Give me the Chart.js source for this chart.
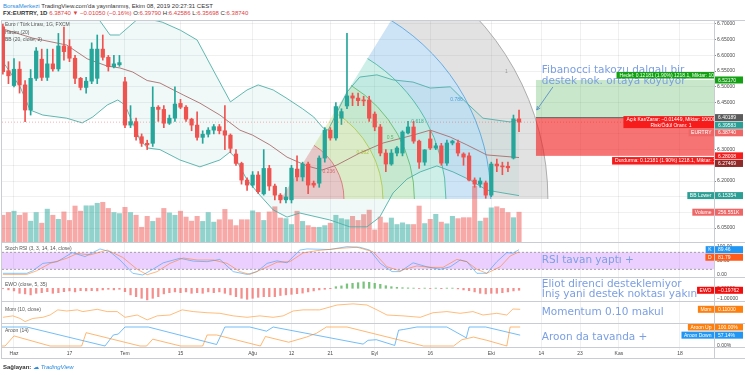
<!DOCTYPE html>
<html lang="tr">
<head>
<meta charset="utf-8">
<title>EURTRY 1D</title>
<script src="https://cdn.jsdelivr.net/npm/chart.js@4.4.1/dist/chart.umd.min.js"></script>
<style>
  html, body { margin: 0; padding: 0; background: #fff; }
  #wrap { position: relative; width: 745px; height: 375px; overflow: hidden; font-family: "Liberation Sans", Arial, sans-serif; color: #333; }
  #wrap canvas { position: absolute; left: 0; }
  .txt { position: absolute; left: 3px; white-space: nowrap; line-height: 1; }
  .hl { position: absolute; left: 1px; width: 744px; height: 1px; background: #c9ccd3; }
  .vl { position: absolute; width: 1px; background: #c9ccd3; }
  .dn { color: #e0413f; }
</style>
</head>
<body>
<div id="wrap">
  <div class="txt" style="top:3px;font-size:6px"><span style="color:#2a8ce0">BorsaMerkezi</span> TradingView.com'da yayınlanmış, Ekim 08, 2019 20:27:31 CEST</div>
  <div class="txt" style="top:10px;font-size:6px"><b>FX:EURTRY, 1D</b> <span class="dn">6.38740 ▼ −0.01050 (−0.16%)</span> O:<span class="dn">6.39790</span> H:<span class="dn">6.42586</span> L:<span class="dn">6.35698</span> C:<span class="dn">6.38740</span></div>
  <canvas id="cMain" width="745" height="222" style="top:21px"></canvas>
  <canvas id="cStoch" width="745" height="35" style="top:243px"></canvas>
  <canvas id="cEwo" width="745" height="24" style="top:278px"></canvas>
  <canvas id="cMom" width="745" height="22" style="top:302px"></canvas>
  <canvas id="cAroon" width="745" height="34" style="top:324px"></canvas>
  <div class="hl" style="top:20px"></div>
  <div class="hl" style="top:242px"></div>
  <div class="hl" style="top:277px"></div>
  <div class="hl" style="top:301px"></div>
  <div class="hl" style="top:323px"></div>
  <div class="hl" style="top:347px"></div>
  <div class="hl" style="top:358px"></div>
  <div class="vl" style="left:1px;top:20px;height:339px"></div>
  <div class="vl" style="left:714px;top:20px;height:339px"></div>
  <div class="txt" style="top:364px;font-size:6px"><b>Sağlayan:</b> <span style="color:#2a8ce0;font-style:italic">&#9729; TradingView</span></div>
</div>
<script>
// ---- candles (trading-day index, first bar = -2) ----
const startIdx = -2;
const opens = [6.691,6.551,6.504,6.556,6.506,6.426,6.527,6.588,6.530,6.573,
  6.557,6.630,6.628,6.591,6.527,6.498,6.518,6.527,6.620,6.594,
  6.564,6.570,6.516,6.378,6.389,6.341,6.320,6.320,6.435,6.428,
  6.384,6.400,6.447,6.435,6.397,6.378,6.339,6.349,6.362,6.373,
  6.360,6.346,6.286,6.256,6.203,6.187,6.219,6.159,6.240,6.184,
  6.155,6.140,6.140,6.238,6.213,6.254,6.193,6.193,6.273,6.362,
  6.337,6.400,6.439,6.471,6.464,6.457,6.458,6.413,6.372,6.289,
  6.254,6.289,6.289,6.353,6.372,6.327,6.260,6.334,6.305,6.312,
  6.257,6.321,6.321,6.286,6.280,6.203,6.190,6.194,6.155,6.254,
  6.248,6.247,6.273,6.3979];
const highs = [6.700,6.580,6.590,6.580,6.520,6.555,6.625,6.620,6.620,6.620,
  6.670,6.690,6.650,6.600,6.530,6.530,6.640,6.665,6.665,6.600,
  6.600,6.600,6.530,6.440,6.400,6.350,6.330,6.500,6.440,6.440,
  6.410,6.500,6.460,6.440,6.400,6.420,6.360,6.370,6.380,6.380,
  6.440,6.350,6.300,6.260,6.210,6.230,6.230,6.300,6.250,6.190,
  6.160,6.180,6.250,6.280,6.260,6.260,6.200,6.280,6.370,6.370,
  6.450,6.430,6.670,6.480,6.480,6.470,6.470,6.420,6.380,6.300,
  6.300,6.310,6.360,6.390,6.390,6.330,6.300,6.360,6.320,6.320,
  6.330,6.330,6.330,6.290,6.290,6.210,6.210,6.200,6.260,6.270,
  6.260,6.260,6.410,6.42586];
const lows = [6.540,6.510,6.500,6.480,6.389,6.410,6.520,6.520,6.520,6.550,
  6.550,6.585,6.580,6.510,6.490,6.480,6.510,6.510,6.585,6.550,
  6.560,6.565,6.370,6.370,6.330,6.310,6.300,6.310,6.390,6.370,
  6.380,6.390,6.430,6.390,6.360,6.330,6.320,6.340,6.350,6.350,
  6.300,6.290,6.250,6.190,6.170,6.180,6.160,6.155,6.170,6.140,
  6.130,6.130,6.130,6.200,6.200,6.160,6.180,6.180,6.260,6.330,
  6.330,6.380,6.430,6.440,6.440,6.440,6.390,6.360,6.280,6.230,
  6.250,6.280,6.280,6.350,6.320,6.240,6.250,6.300,6.300,6.250,
  6.250,6.315,6.280,6.250,6.200,6.180,6.180,6.145,6.150,6.230,
  6.220,6.230,6.270,6.35698];
const closes = [6.548,6.535,6.556,6.506,6.426,6.527,6.614,6.530,6.573,6.557,
  6.630,6.612,6.591,6.527,6.498,6.518,6.620,6.620,6.594,6.564,
  6.573,6.577,6.378,6.389,6.341,6.320,6.315,6.435,6.428,6.384,
  6.400,6.445,6.435,6.397,6.378,6.339,6.349,6.362,6.373,6.360,
  6.346,6.304,6.256,6.203,6.187,6.219,6.166,6.240,6.184,6.155,
  6.140,6.149,6.241,6.213,6.254,6.187,6.187,6.273,6.362,6.337,
  6.437,6.421,6.471,6.464,6.456,6.455,6.400,6.372,6.289,6.254,
  6.289,6.305,6.356,6.372,6.327,6.260,6.299,6.305,6.312,6.257,
  6.321,6.327,6.289,6.276,6.203,6.190,6.200,6.155,6.254,6.248,
  6.245,6.242,6.398,6.3874];
const volumes = [231,254,265,231,251,182,254,165,282,231,
  197,259,188,308,265,310,310,331,339,288,
  254,245,297,254,231,131,222,180,208,288,
  251,231,265,216,182,222,180,254,174,194,
  280,194,145,194,194,268,254,188,259,302,
  208,203,154,265,180,145,131,131,145,165,
  231,203,194,222,188,237,274,109,216,168,
  208,154,168,154,154,308,162,197,239,174,
  160,222,203,211,211,473,182,208,293,302,
  288,254,211,256.551];

// ---- Bollinger bands, read at sample points (index, price) ----
const bbUpperIdx = [-2.2,12,15,17.3,19,22.7,26.7,30,33,36,39,42,44,46.7,49,52,54,55.7,56.6,60,62.3,65.4,68.3,71.9,75,78.6,81.6,84.5,89.4,91];
const bbUpper = [6.80,6.78,6.722,6.665,6.665,6.722,6.706,6.68,6.649,6.55,6.452,6.49,6.506,6.49,6.465,6.43,6.404,6.369,6.362,6.483,6.531,6.538,6.522,6.515,6.496,6.50,6.448,6.40,6.388,6.3958];
const bbBasisIdx = [-2.5,3.4,9.5,13.2,16.8,19.1,21.4,24,26.3,30.5,33.5,37.1,40.7,43,46.1,49.2,52.8,55.5,58.2,62.3,66.5,71.9,75,78.6,81.6,85.2,91];
const bbBasis = [6.687,6.655,6.633,6.589,6.566,6.56,6.547,6.52,6.512,6.474,6.448,6.41,6.362,6.346,6.315,6.276,6.248,6.235,6.251,6.289,6.321,6.346,6.362,6.34,6.315,6.283,6.2747];
const bbLowerIdx = [-2.2,1.1,2.9,5.2,9.5,12.3,14.2,16.8,18.7,20,21.4,22.7,24.1,26.3,29.9,33.5,37.1,38.9,39.8,42,44.3,46.7,49.2,51.5,56.9,60.5,63.6,65.9,68.3,70.8,73.2,76.2,79.1,82.2,85.2,88.1,91];
const bbLower = [6.585,6.50,6.426,6.41,6.40,6.385,6.404,6.442,6.458,6.442,6.385,6.33,6.305,6.30,6.267,6.245,6.267,6.292,6.276,6.203,6.155,6.108,6.085,6.098,6.076,6.054,6.054,6.085,6.162,6.206,6.229,6.248,6.229,6.203,6.171,6.162,6.1535];

// ---- Stoch RSI (index, value) ----
const stochKIdx = [-2,2.3,3.4,5.2,7.8,10.5,12.8,15.5,17.3,19.1,21.4,23.2,25,26.9,29.9,32.3,34.8,37.1,39.5,42,43.8,45.6,47.4,49.2,51.5,52.8,56.9,60,62.3,64.1,66,68.1,69.6,71.9,74.4,76.8,78.6,80.4,81.6,83.4,85.2,87,88.8,89.9,91];
const stochK = [6,6,15,41,47,79,65,92,82,53,6,0,20,43,59,49,47,55,12,2,12,41,50,43,88,92,90,100,98,88,41,12,12,43,29,20,29,53,47,6,6,47,79,77,89.46];
const stochDIdx = [-2,2.3,4.1,6.5,9.5,11.4,13.7,16.8,19.6,22.2,24,25.8,28.1,30.5,33,35.9,38.4,40.7,42.5,44.9,47.4,49.7,52.1,54.6,58.7,61.8,64.7,67.2,69.5,72.6,75,77.3,79.8,81.6,83.4,85.2,87.6,89.4,91];
const stochD = [2,2,15,41,59,76,71,88,62,20,1,12,41,60,53,53,41,12,2,22,45,47,78,86,94,98,82,29,15,32,27,27,55,47,20,6,29,67,81.79];

// ---- EWO (one value per bar) ----
const ewo = [-0.02,-0.16,-0.26,-0.5,-0.56,-0.66,-0.5,-0.44,-0.34,-0.5,
  -0.44,-0.34,-0.26,-0.36,-0.24,-0.26,-0.24,-0.26,-0.16,-0.1,
  -0.16,-0.1,-0.34,-0.66,-0.84,-1.0,-1.16,-1.0,-0.84,-0.56,
  -0.44,-0.36,-0.44,-0.36,-0.5,-0.44,-0.5,-0.36,-0.44,-0.36,
  -0.5,-0.66,-0.84,-1.0,-1.1,-1.0,-0.9,-0.84,-0.84,-0.84,
  -0.72,-0.66,-0.6,-0.54,-0.48,-0.36,-0.26,-0.16,-0.1,-0.04,
  0.16,0.24,0.44,0.5,0.56,0.64,0.6,0.5,0.4,0.26,
  0.16,0.1,0.06,0.04,0.02,-0.02,0.02,-0.02,0.02,-0.04,
  0.02,0.02,-0.06,-0.16,-0.24,-0.36,-0.5,-0.56,-0.5,-0.5,
  -0.44,-0.36,-0.26,-0.19762];

// ---- Momentum (index, value) ----
const momIdx = [-2,-0.2,1.1,2,3.4,5.2,6.5,7.9,9.5,11.4,12.4,15,16.8,18.6,20,22.2,24,25.8,28.1,30.3,32.3,34.8,37.1,39.5,42,44.3,46.7,48.5,50.3,52.1,55.1,58.2,61.1,63.6,65.4,67.2,70.1,73.2,75.5,78,80.4,82.7,84.5,87,88.8,89.9,91.2];
const mom = [-0.17,-0.12,-0.21,-0.32,-0.21,-0.17,-0.09,0.09,0.05,0.09,0.03,0.11,0.03,0.03,-0.17,-0.09,-0.26,-0.12,-0.09,0.09,0.03,-0.01,-0.03,-0.12,-0.17,-0.12,-0.17,-0.12,0.05,0.09,0.09,0.26,0.30,0.26,0.09,-0.09,-0.12,-0.17,-0.01,0.03,-0.03,0.03,-0.09,-0.03,-0.09,0.12,0.11];

// ---- Aroon (index, value %) ----
const aroonUpIdx = [-2.2,-1.6,0,6.5,12.2,13,22.7,23.9,25,30,34,34.8,36.5,44.4,45.3,49.5,52.7,54.5,56.3,60,73.8,79.2,80.7,82.8,85.2,88.8,89.4,91.2];
const aroonUp = [0,0,53,0,0,70,0,0,36,0,0,58,58,0,50,20,47,67,100,100,0,0,33,47,30,0,100,100];
const aroonDnIdx = [-2.2,2.3,16.4,17.9,18.8,20,24.2,36.5,38,42.5,45.5,46.7,62.9,63.8,65.3,68.6,69.3,70.2,72.6,78,81.5,82,85,91.2];
const aroonDn = [100,100,0,58,63,100,100,8,100,100,78,100,10,30,33,3,83,87,100,100,43,100,100,57.14];

// ---- axes ----
const xMin = -2.16, xMax = 126.13;
const timeTickIdx = [0,10,20,30,43,50,57,65,75,86,95,102,109,120];
const timeTickLabels = ['Haz','17','Tem','15','Ağu','12','21','Eyl','16','Eki','14','23','Kas','18'];
const priceTicks = [6.05,6.10,6.15,6.20,6.25,6.30,6.35,6.40,6.45,6.50,6.55,6.60,6.65,6.70];

// ---- drawings ----
const fibLevels = [0.236,0.382,0.5,0.618,0.786,1];
const fibCenter = [48.1, 6.1427];
const fibBaseEnd = 96.2;
const fibTrend = [68.0, 6.713];
const posStartIdx = 94.05, posEndIdx = 142.7;
const posTarget = 6.52170, posEntry = 6.40189, posStop = 6.28008;

const FONT = '"Liberation Sans", Arial, sans-serif';
const NOTE_FONT = '10.5px "DejaVu Sans", sans-serif';
const NOTE = '#7b9fe2';
const gridColor = 'rgba(42,46,57,0.07)';
const UP = '#26a69a', DN = '#ef5350';

const barIdx = opens.map((_, k) => startIdx + k);
const isUp = opens.map((o, k) => closes[k] >= o);
const xy = (ix, vs) => ix.map((x, k) => ({x, y: vs[k]}));

function xAxis(labels) {
  return {
    type: 'linear', min: xMin, max: xMax, offset: false,
    grid: {color: gridColor, drawTicks: labels, tickLength: 2, offset: false},
    border: {display: false},
    afterBuildTicks: s => { s.ticks = timeTickIdx.map(v => ({value: v})); },
    afterFit: s => { s.height = labels ? 10 : 0; s.paddingLeft = 0; s.paddingRight = 0; },
    ticks: {display: labels, autoSkip: false, maxRotation: 0, padding: 1,
      font: {size: 5, family: FONT}, color: '#4a4a4a',
      callback: (v, i) => timeTickLabels[i]}
  };
}
function yAxis(min, max, ticks, fmt, showGrid) {
  return {
    position: 'right', min, max,
    afterFit: s => { s.width = 31; s.paddingTop = 0; s.paddingBottom = 0; },
    afterBuildTicks: s => { s.ticks = ticks.map(v => ({value: v})); },
    grid: {display: showGrid, color: gridColor, tickLength: 2, tickColor: '#888'},
    border: {display: true, color: '#c9ccd3'},
    ticks: {padding: 1, font: {size: 5, family: FONT}, color: '#4a4a4a', callback: fmt}
  };
}
function baseOptions(xLabels, y, extraScales, plug) {
  return {
    responsive: false, animation: false, devicePixelRatio: 1,
    layout: {padding: {left: 2, right: 0, top: 0, bottom: 0}},
    plugins: Object.assign({legend: {display: false}, tooltip: {enabled: false}}, plug),
    scales: Object.assign({x: xAxis(xLabels), y}, extraScales || {})
  };
}

// titles, notes, arrows, right-axis value labels
const decor = {
  id: 'decor',
  afterDraw(chart, args, o) {
    const {ctx, chartArea: a, scales} = chart;
    ctx.save();
    ctx.textBaseline = 'middle';
    ctx.font = '5px ' + FONT; ctx.fillStyle = '#555'; ctx.textAlign = 'left';
    (o.titles || []).forEach((t, k) => ctx.fillText(t, a.left + 3, a.top + o.titleTop + k * 7.5));
    ctx.font = NOTE_FONT; ctx.fillStyle = NOTE;
    (o.notes || []).forEach(n => ctx.fillText(n.text, scales.x.getPixelForValue(n.idx), scales.y.getPixelForValue(n.v)));
    (o.arrows || []).forEach(ar => {
      const x0 = scales.x.getPixelForValue(ar.from[0]), y0 = scales.y.getPixelForValue(ar.from[1]);
      const x1 = scales.x.getPixelForValue(ar.to[0]), y1 = scales.y.getPixelForValue(ar.to[1]);
      const an = Math.atan2(y1 - y0, x1 - x0);
      ctx.strokeStyle = '#5b8fc7'; ctx.lineWidth = 0.9;
      ctx.beginPath(); ctx.moveTo(x0, y0); ctx.lineTo(x1, y1);
      ctx.moveTo(x1 - 4 * Math.cos(an - 0.45), y1 - 4 * Math.sin(an - 0.45)); ctx.lineTo(x1, y1);
      ctx.lineTo(x1 - 4 * Math.cos(an + 0.45), y1 - 4 * Math.sin(an + 0.45));
      ctx.stroke();
    });
    const items = (o.labels || []).map(it => Object.assign({}, it, {py: scales[it.axis || 'y'].getPixelForValue(it.v)}));
    items.sort((p, q) => p.py - q.py);
    for (let k = 1; k < items.length; k++) if (items[k].py - items[k - 1].py < 7.6) items[k].py = items[k - 1].py + 7.6;
    ctx.font = '5px ' + FONT;
    items.forEach(it => {
      ctx.fillStyle = it.bg; ctx.fillRect(a.right + 1, it.py - 3.5, 28, 7);
      ctx.fillStyle = '#fff'; ctx.textAlign = 'left'; ctx.fillText(it.text, a.right + 4, it.py + 0.3);
      if (it.tag) {
        const w = ctx.measureText(it.tag).width + 5;
        ctx.fillStyle = it.bg; ctx.fillRect(a.right - w, it.py - 3.5, w, 7);
        ctx.fillStyle = '#fff'; ctx.textAlign = 'center'; ctx.fillText(it.tag, a.right - w / 2, it.py + 0.3);
      }
    });
    ctx.restore();
  }
};

// fib speed resistance arcs
const fibFill = ['rgba(214,70,70,0.28)','rgba(175,205,70,0.28)','rgba(90,190,95,0.28)','rgba(60,190,160,0.25)','rgba(70,150,220,0.27)','rgba(140,140,140,0.25)'];
const fibLine = ['#e06666','#b5c93a','#5cb860','#3bb39a','#4a9ee0','#9a9a9a'];
const fibPlugin = {
  id: 'fib',
  beforeDatasetsDraw(chart) {
    const {ctx, chartArea: a, scales: {x, y}} = chart;
    const cx = x.getPixelForValue(fibCenter[0]), cy = y.getPixelForValue(fibCenter[1]);
    const R = x.getPixelForValue(fibBaseEnd) - cx;
    const ang = Math.atan2(cy - y.getPixelForValue(fibTrend[1]), x.getPixelForValue(fibTrend[0]) - cx);
    ctx.save();
    ctx.beginPath(); ctx.rect(a.left, a.top, a.right - a.left, a.bottom - a.top); ctx.clip();
    let prev = 0;
    fibLevels.forEach((lv, k) => {
      ctx.beginPath();
      ctx.arc(cx, cy, lv * R, 0, -ang, true);
      ctx.arc(cx, cy, prev * R, -ang, 0, false);
      ctx.closePath();
      ctx.fillStyle = fibFill[k]; ctx.fill();
      prev = lv;
    });
    ctx.lineWidth = 0.8;
    fibLevels.forEach((lv, k) => {
      ctx.beginPath(); ctx.arc(cx, cy, lv * R, 0, -ang, true);
      ctx.strokeStyle = fibLine[k]; ctx.stroke();
    });
    ctx.font = '5px ' + FONT; ctx.textAlign = 'center'; ctx.textBaseline = 'middle';
    const la = 29.5 * Math.PI / 180;
    fibLevels.forEach((lv, k) => {
      const r = lv * R - 8;
      ctx.fillStyle = fibLine[k];
      ctx.fillText(String(lv), cx + r * Math.cos(la), cy - r * Math.sin(la));
    });
    ctx.restore();
  }
};

// long position tool + last price line
const posPlugin = {
  id: 'pos',
  afterDatasetsDraw(chart) {
    const {ctx, chartArea: a, scales: {x, y}} = chart;
    const x0 = x.getPixelForValue(posStartIdx), x1 = x.getPixelForValue(posEndIdx);
    const yT = y.getPixelForValue(posTarget), yE = y.getPixelForValue(posEntry), yS = y.getPixelForValue(posStop);
    ctx.save();
    ctx.beginPath(); ctx.rect(a.left, a.top, a.right - a.left, a.bottom - a.top); ctx.clip();
    const yL = y.getPixelForValue(closes[closes.length - 1]);
    ctx.strokeStyle = 'rgba(239,83,80,0.45)'; ctx.setLineDash([1, 2]); ctx.lineWidth = 1;
    ctx.beginPath(); ctx.moveTo(a.left, yL); ctx.lineTo(a.right, yL); ctx.stroke(); ctx.setLineDash([]);
    ctx.fillStyle = 'rgba(76,175,80,0.3)'; ctx.fillRect(x0, yT, x1 - x0, yE - yT);
    ctx.fillStyle = 'rgba(240,30,30,0.62)'; ctx.fillRect(x0, yE, x1 - x0, yS - yE);
    ctx.strokeStyle = '#666'; ctx.lineWidth = 1;
    ctx.beginPath(); ctx.moveTo(x0, yE); ctx.lineTo(x1, yE); ctx.stroke();
    ctx.restore();
  },
  afterDraw(chart) {
    const {ctx, chartArea: a, scales: {x, y}} = chart;
    const xc = (x.getPixelForValue(posStartIdx) + x.getPixelForValue(posEndIdx)) / 2;
    const yT = y.getPixelForValue(posTarget), yE = y.getPixelForValue(posEntry), yS = y.getPixelForValue(posStop);
    ctx.save();
    ctx.beginPath(); ctx.rect(a.left, a.top, a.right - a.left, a.bottom - a.top); ctx.clip();
    ctx.font = '5px ' + FONT; ctx.textAlign = 'center'; ctx.textBaseline = 'middle';
    const box = (lines, top, h, bg) => {
      const w = Math.max(...lines.map(t => ctx.measureText(t).width)) + 6;
      ctx.fillStyle = bg; ctx.fillRect(xc - w / 2, top, w, h);
      ctx.fillStyle = '#fff';
      lines.forEach((t, k) => ctx.fillText(t, xc, top + h / (lines.length * 2) * (2 * k + 1) + 0.3));
    };
    box(['Hedef: 0.12181 (1.90%) 1218.1, Miktar: 10000'], yT - 8, 6.5, '#13a013');
    box(['Açık Kar/Zarar: −0.01449, Miktar: 10000', 'Risk/Ödül Oranı: 1'], yE - 1.5, 12, '#f61c1c');
    box(['Durdurma: 0.12181 (1.90%) 1218.1, Miktar: 10000'], yS + 1.2, 7.5, '#f61c1c');
    ctx.restore();
  }
};

// stoch band
const bandPlugin = {
  id: 'band',
  beforeDatasetsDraw(chart) {
    const {ctx, chartArea: a, scales: {y}} = chart;
    const y80 = y.getPixelForValue(80), y20 = y.getPixelForValue(20);
    ctx.save();
    ctx.fillStyle = 'rgba(153,21,255,0.2)'; ctx.fillRect(a.left, y80, a.right - a.left, y20 - y80);
    ctx.strokeStyle = '#8c8c8c'; ctx.setLineDash([2, 2]); ctx.lineWidth = 0.8;
    ctx.beginPath(); ctx.moveTo(a.left, y80); ctx.lineTo(a.right, y80); ctx.moveTo(a.left, y20); ctx.lineTo(a.right, y20); ctx.stroke();
    ctx.restore();
  }
};

const line = (data, color, extra) => Object.assign({type: 'line', data, borderColor: color, borderWidth: 0.9, pointRadius: 0, tension: 0, fill: false}, extra || {});

// ---- main pane ----
new Chart(document.getElementById('cMain'), {
  type: 'bar',
  data: {datasets: [
    line(xy(bbUpperIdx, bbUpper), '#4fb0a8', {fill: 2, backgroundColor: 'rgba(38,166,154,0.07)', order: 2}),
    line(xy(bbBasisIdx, bbBasis), '#b06a6a', {order: 2}),
    line(xy(bbLowerIdx, bbLower), '#4fb0a8', {order: 2}),
    {data: barIdx.map((x, k) => ({x, y: volumes[k]})), yAxisID: 'yv', grouped: false, barThickness: 4.4, order: 3,
      backgroundColor: isUp.map(u => u ? 'rgba(38,166,154,0.5)' : 'rgba(239,83,80,0.5)')},
    {data: barIdx.map((x, k) => ({x, y: [lows[k], highs[k]]})), grouped: false, barThickness: 1, order: 1,
      backgroundColor: isUp.map(u => u ? UP : DN)},
    {data: barIdx.map((x, k) => ({x, y: [opens[k], closes[k]]})), grouped: false, barThickness: 3.6, minBarLength: 1, order: 0,
      backgroundColor: isUp.map(u => u ? UP : DN)}
  ]},
  options: baseOptions(false,
    yAxis(6.00255, 6.70955, priceTicks, v => Number(v).toFixed(5), true),
    {yv: {display: false, min: 0, max: 1849}},
    {decor: {
      titleTop: 4,
      titles: ['Euro / Türk Lirası, 1G, FXCM', 'Hacim (20)', 'BB (20, close, 2)'],
      notes: [{idx: 95.1, v: 6.5513, text: 'Fibanocci takozu dalgalı bir'}, {idx: 95.1, v: 6.5162, text: 'destek nok. ortaya koyuyor'}],
      arrows: [{from: [97.1, 6.4994], to: [94.2, 6.4261]}],
      labels: [
        {v: 6.52170, text: '6.52170', bg: '#13a013'},
        {v: 6.40189, text: '6.40189', bg: '#5b5b5b'},
        {v: 6.39583, text: '6.39583', bg: '#2c9e94'},
        {v: 6.38740, text: '6.38740', bg: '#ef6666', tag: 'EURTRY'},
        {v: 6.28008, text: '6.28008', bg: '#f61c1c'},
        {v: 6.27469, text: '6.27469', bg: '#8e2a2a'},
        {v: 6.15354, text: '6.15354', bg: '#2c9e94', tag: 'BB Lower'},
        {v: 256.551, axis: 'yv', text: '256.551K', bg: '#ef6666', tag: 'Volume'}
      ]}}),
  plugins: [fibPlugin, decor, posPlugin]
});

// ---- Stoch RSI ----
new Chart(document.getElementById('cStoch'), {
  type: 'line',
  data: {datasets: [line(xy(stochDIdx, stochD), 'rgba(255,109,0,0.55)'), line(xy(stochKIdx, stochK), 'rgba(33,150,243,0.6)')]},
  options: baseOptions(false, yAxis(-10.59, 112.95, [0, 50, 100], v => Number(v).toFixed(2), false), null,
    {decor: {titleTop: 6, titles: ['Stoch RSI (3, 3, 14, 14, close)'],
      notes: [{idx: 95.1, v: 52.9, text: 'RSI tavan yaptı +'}],
      labels: [{v: 89.46, text: '89.46', bg: '#2196f3', tag: 'K'}, {v: 81.79, text: '81.79', bg: '#ff5b1a', tag: 'D'}]}}),
  plugins: [bandPlugin, decor]
});

// ---- EWO ----
new Chart(document.getElementById('cEwo'), {
  type: 'bar',
  data: {datasets: [{data: barIdx.map((x, k) => ({x, y: ewo[k]})), barThickness: 1.6,
    backgroundColor: ewo.map(v => v >= 0 ? 'rgba(76,175,80,0.75)' : 'rgba(239,83,80,0.65)')}]},
  options: baseOptions(false, yAxis(-1.37, 1.03, [-1, 0], v => (v < 0 ? '−' : '') + Math.abs(v).toFixed(5), false), null,
    {decor: {titleTop: 6.7, titles: ['EWO (close, 5, 35)'],
      notes: [{idx: 95.1, v: 0.43, text: 'Eliot direnci desteklemiyor'}, {idx: 95.1, v: -0.64, text: 'İniş yani destek noktası yakın'}],
      labels: [{v: -0.19762, text: '−0.19762', bg: '#f20d0d', tag: 'EWO'}]}}),
  plugins: [decor]
});

// ---- Momentum ----
new Chart(document.getElementById('cMom'), {
  type: 'line',
  data: {datasets: [line(xy(momIdx, mom), 'rgba(255,140,30,0.65)')]},
  options: baseOptions(false, yAxis(-0.4045, 0.3655, [], v => v, false), null,
    {decor: {titleTop: 7.3, titles: ['Mom (10, close)'],
      notes: [{idx: 95.1, v: -0.009, text: 'Momentum 0.10 makul'}],
      labels: [{v: 0.11, text: '0.11000', bg: '#ff7f0e', tag: 'Mom'}]}}),
  plugins: [decor]
});

// ---- Aroon + time axis ----
new Chart(document.getElementById('cAroon'), {
  type: 'line',
  data: {datasets: [line(xy(aroonUpIdx, aroonUp), 'rgba(255,140,30,0.7)'), line(xy(aroonDnIdx, aroonDn), 'rgba(33,150,243,0.7)')]},
  options: baseOptions(true, yAxis(-10.5, 115.8, [0, 100], v => Number(v).toFixed(2) + '%', false), null,
    {decor: {titleTop: 7, titles: ['Aroon (14)'],
      notes: [{idx: 95.1, v: 44.7, text: 'Aroon da tavanda +'}],
      labels: [{v: 100, text: '100.00%', bg: '#ff7f0e', tag: 'Aroon Up'}, {v: 57.14, text: '57.14%', bg: '#2196f3', tag: 'Aroon Down'}]}}),
  plugins: [decor]
});
</script>
</body>
</html>
